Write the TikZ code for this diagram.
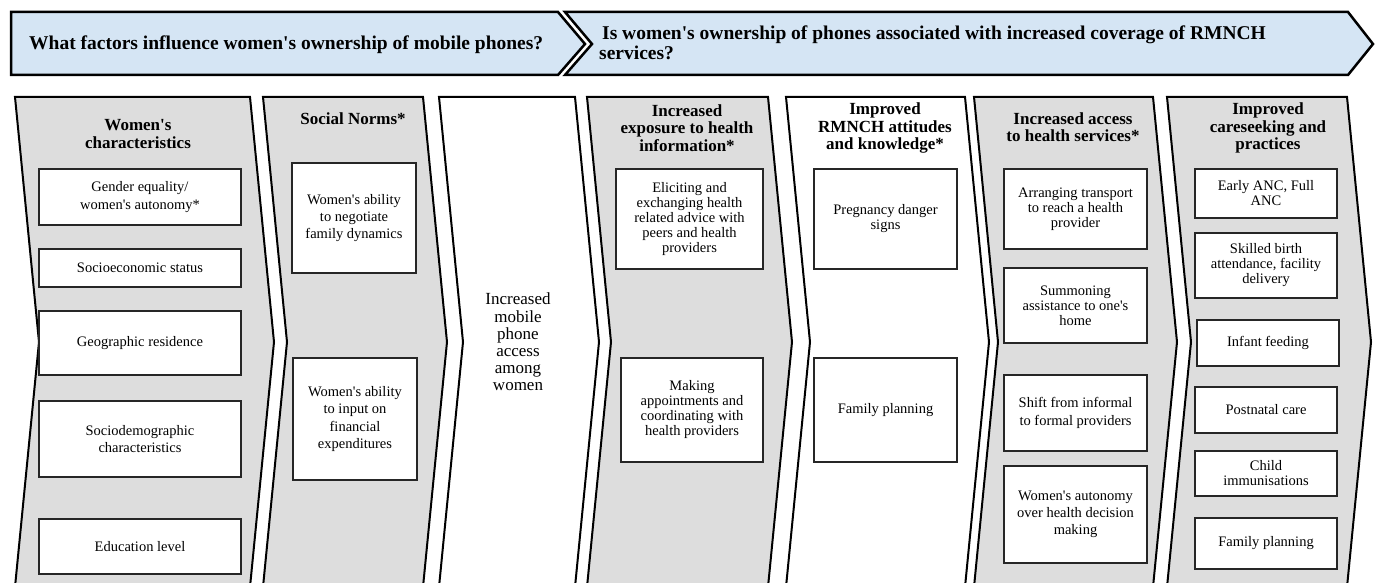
\documentclass[tikz,border=0pt]{standalone}
\usepackage{fontspec}
\setmainfont{Liberation Serif}[Ligatures=TeXOff]
\definecolor{bannerblue}{RGB}{213,229,244}
\definecolor{colgray}{RGB}{221,221,221}
\tikzset{
  colshape/.style={draw=black, line width=2pt, line join=miter},
  banner/.style={draw=black, line width=2.5pt, line join=miter, fill=bannerblue},
  bx/.style={draw=black!85, line width=1.1pt, fill=white, inner sep=0pt, outer sep=0pt,
    align=center, font=\fontsize{14.5}{15}\selectfont},
  wide/.style={font=\fontsize{14.5}{17.3}\selectfont},
  ttl/.style={inner sep=0pt, align=center, font=\bfseries\fontsize{17}{17.3}\selectfont},
  bnt/.style={inner sep=0pt, font=\bfseries\fontsize{19.5}{20}\selectfont},
}
\newcommand\mychev[3]{\draw[colshape,fill=#3] (#1,97) -- (#2,97) -- ({#2+24},342) -- (#2,587) -- (#1,587) -- ({#1+24},342) -- cycle;}
\newcommand\mybox[7][]{\node[bx,#1,minimum width=#4,minimum height=#5] (#2) at (#3,#6) {#7};}
\begin{document}
\begin{tikzpicture}[x=1pt,y=-1pt]
\useasboundingbox (0,0) rectangle (1375,583);
\fill[white] (0,0) rectangle (1375,583);
% banners
\draw[banner] (11,12) -- (558,12) -- (585,44) -- (558,75) -- (11,75) -- cycle;
\draw[banner] (565,12) -- (1348,12) -- (1373,44) -- (1348,75) -- (565,75) -- (592,44) -- cycle;
\node[bnt, anchor=base west] (q1) at (29,49.5) {What factors influence women's ownership of mobile phones?};
\node[bnt, anchor=west, align=left] (q2) at (599,42.5) {\hspace*{3pt}Is women's ownership of phones associated with increased coverage of RMNCH\\services?};
% columns
\mychev{15}{250}{colgray}
\mychev{263}{423}{colgray}
\mychev{439}{575}{white}
\mychev{587}{768}{colgray}
\mychev{786}{965}{white}
\mychev{974}{1153}{colgray}
\mychev{1167}{1347}{colgray}
% titles
\node[ttl] (t1) at (138,134) {Women's\\characteristics};
\node[ttl] (t2) at (353,119) {Social Norms*};
\node[inner sep=0pt, align=center, font=\fontsize{17}{17.2}\selectfont] (t3) at (518,342) {Increased\\mobile\\phone\\access\\among\\women};
\node[ttl] (t4) at (687,128) {Increased\\exposure to health\\information*};
\node[ttl] (t5) at (885,128) {Improved\\RMNCH attitudes\\and knowledge*};
\node[ttl] (t6) at (1073,127.5) {Increased access\\to health services*};
\node[ttl] (t7) at (1268,128) {Improved\\careseeking and\\practices};
% column 1
\mybox[wide]{a1}{140}{202}{56}{197}{Gender equality/\\women's autonomy*}
\mybox{a2}{140}{202}{38}{268}{Socioeconomic status}
\mybox{a3}{140}{202}{64}{343}{Geographic residence}
\mybox[wide]{a4}{140}{202}{76}{439}{Sociodemographic\\characteristics}
\mybox{a5}{140}{202}{55}{546.5}{Education level}
% column 2
\mybox[wide]{b1}{354}{124}{110}{218}{Women's ability\\to negotiate\\family dynamics}
\mybox[wide]{b2}{355}{124}{122}{419}{Women's ability\\to input on\\financial\\expenditures}
% column 4
\mybox{d1}{689.5}{147}{100}{219}{Eliciting and\\exchanging health\\related advice with\\peers and health\\providers}
\mybox{d2}{692}{142}{104}{410}{Making\\appointments and\\coordinating with\\health providers}
% column 5
\mybox{e1}{885.5}{143}{100}{219}{Pregnancy danger\\signs}
\mybox{e2}{885.5}{143}{104}{410}{Family planning}
% column 6
\mybox{f1}{1075.5}{143}{80}{209}{Arranging transport\\to reach a health\\provider}
\mybox{f2}{1075.5}{143}{75}{305.5}{Summoning\\assistance to one's\\home}
\mybox[wide]{f3}{1075.5}{143}{76}{413}{Shift from informal\\to formal providers}
\mybox[wide]{f4}{1075.5}{143}{97}{514.5}{Women's autonomy\\over health decision\\making}
% column 7
\mybox{g1}{1266}{142}{49}{193.5}{Early ANC, Full\\ANC}
\mybox{g2}{1266}{142}{65}{265.5}{Skilled birth\\attendance, facility\\delivery}
\mybox{g3}{1268}{142}{46}{343}{Infant feeding}
\mybox{g4}{1266}{142}{46}{410}{Postnatal care}
\mybox{g5}{1266}{142}{45}{473.5}{Child\\immunisations}
\mybox{g6}{1266}{142}{51}{543.5}{Family planning}
\end{tikzpicture}
\end{document}
